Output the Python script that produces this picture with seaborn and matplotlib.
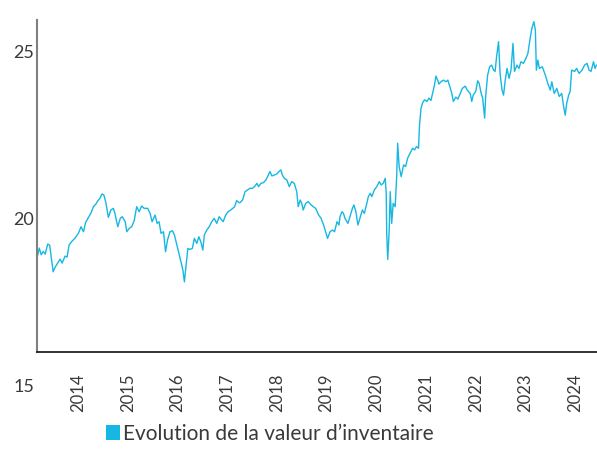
# -------------------------------------
# Import Libraries
# -------------------------------------
import matplotlib
matplotlib.use("Agg")
import matplotlib.pyplot as plt
import seaborn as sns
from matplotlib.patches import Patch


# -------------------------------------
# Data
# -------------------------------------
dates = [
    2013.19, 2013.22, 2013.26, 2013.30, 2013.34, 2013.39, 2013.43, 2013.47, 2013.50, 2013.54,
    2013.59, 2013.64, 2013.68, 2013.74, 2013.78, 2013.82, 2013.87, 2013.94, 2014.01, 2014.06,
    2014.11, 2014.15, 2014.21, 2014.26, 2014.31, 2014.36, 2014.40, 2014.44, 2014.48, 2014.52,
    2014.56, 2014.61, 2014.66, 2014.71, 2014.74, 2014.80, 2014.85, 2014.89, 2014.95, 2014.98,
    2015.03, 2015.08, 2015.13, 2015.18, 2015.23, 2015.28, 2015.33, 2015.40, 2015.45, 2015.49,
    2015.55, 2015.59, 2015.63, 2015.67, 2015.72, 2015.76, 2015.80, 2015.85, 2015.90, 2015.94,
    2015.99, 2016.03, 2016.07, 2016.11, 2016.14, 2016.17, 2016.21, 2016.25, 2016.30, 2016.34,
    2016.39, 2016.43, 2016.47, 2016.51, 2016.54, 2016.59, 2016.64, 2016.69, 2016.74, 2016.79,
    2016.84, 2016.88, 2016.92, 2016.97, 2017.02, 2017.09, 2017.15, 2017.19, 2017.24, 2017.26,
    2017.31, 2017.36, 2017.41, 2017.46, 2017.51, 2017.55, 2017.60, 2017.63, 2017.68, 2017.73,
    2017.78, 2017.83, 2017.86, 2017.90, 2017.95, 2018.00, 2018.04, 2018.08, 2018.11, 2018.15,
    2018.20, 2018.25, 2018.30, 2018.35, 2018.40, 2018.43, 2018.47, 2018.50, 2018.53, 2018.58,
    2018.63, 2018.69, 2018.73, 2018.78, 2018.84, 2018.89, 2018.94, 2018.98, 2019.02, 2019.07,
    2019.12, 2019.16, 2019.21, 2019.25, 2019.27, 2019.31, 2019.34, 2019.37, 2019.43, 2019.47,
    2019.52, 2019.55, 2019.59, 2019.63, 2019.67, 2019.72, 2019.76, 2019.81, 2019.84, 2019.88,
    2019.91, 2019.96, 2020.01, 2020.06, 2020.10, 2020.14, 2020.18, 2020.20, 2020.21, 2020.23,
    2020.26, 2020.28, 2020.31, 2020.34, 2020.38, 2020.41, 2020.43, 2020.46, 2020.50, 2020.55,
    2020.59, 2020.63, 2020.68, 2020.73, 2020.77, 2020.81, 2020.85, 2020.87, 2020.90, 2020.93,
    2020.97, 2021.02, 2021.06, 2021.10, 2021.14, 2021.17, 2021.20, 2021.24, 2021.26, 2021.30,
    2021.35, 2021.40, 2021.44, 2021.49, 2021.52, 2021.55, 2021.60, 2021.64, 2021.69, 2021.73,
    2021.79, 2021.83, 2021.89, 2021.92, 2021.95, 2022.00, 2022.04, 2022.07, 2022.11, 2022.14,
    2022.18, 2022.20, 2022.24, 2022.28, 2022.32, 2022.36, 2022.39, 2022.42, 2022.46, 2022.49,
    2022.53, 2022.56, 2022.59, 2022.63, 2022.67, 2022.71, 2022.75, 2022.78, 2022.83, 2022.87,
    2022.91, 2022.96, 2023.01, 2023.05, 2023.09, 2023.13, 2023.17, 2023.20, 2023.22, 2023.25,
    2023.28, 2023.34, 2023.40, 2023.45, 2023.50, 2023.53, 2023.58, 2023.63, 2023.68, 2023.73,
    2023.77, 2023.80, 2023.83, 2023.87, 2023.90, 2023.93, 2023.99, 2024.03, 2024.08, 2024.14,
    2024.19, 2024.24, 2024.28, 2024.32, 2024.37, 2024.40, 2024.43,
]

nav = [
    18.89, 19.10, 18.90, 19.00, 18.92, 19.22, 19.19, 18.74, 18.39, 18.53,
    18.65, 18.77, 18.65, 18.86, 18.83, 19.19, 19.29, 19.40, 19.55, 19.74,
    19.59, 19.86, 20.02, 20.15, 20.34, 20.42, 20.52, 20.59, 20.72, 20.69,
    20.46, 20.02, 20.24, 20.29, 20.15, 19.74, 19.99, 20.04, 19.89, 19.59,
    19.69, 19.74, 19.92, 20.34, 20.19, 20.36, 20.29, 20.29, 20.14, 19.89,
    20.09, 19.84, 19.89, 19.54, 19.59, 18.99, 19.34, 19.59, 19.62, 19.49,
    19.19, 18.94, 18.69, 18.44, 18.09, 18.54, 19.09, 19.06, 19.09, 19.39,
    19.24, 19.44, 19.29, 19.04, 19.49, 19.64, 19.74, 19.89, 19.99, 19.84,
    20.04, 19.96, 19.89, 20.09, 20.19, 20.26, 20.34, 20.52, 20.46, 20.46,
    20.54, 20.79, 20.84, 20.89, 20.89, 20.94, 21.04, 20.94, 21.04, 21.06,
    21.14, 21.29, 21.39, 21.26, 21.29, 21.32, 21.39, 21.44, 21.29, 21.19,
    21.14, 20.94, 21.09, 21.04, 20.79, 20.34, 20.54, 20.44, 20.24, 20.44,
    20.49, 20.39, 20.34, 20.29, 20.09, 19.99, 19.79, 19.59, 19.39, 19.59,
    19.64, 19.59, 19.89, 19.79, 20.04, 20.19, 20.14, 19.99, 19.84, 20.04,
    20.29, 20.39, 20.19, 19.79, 19.99, 20.24, 20.14, 20.44, 20.64, 20.74,
    20.64, 20.84, 20.94, 21.09, 20.99, 21.04, 21.19, 20.74, 19.54, 18.76,
    19.64, 20.79, 19.84, 20.44, 20.34, 21.24, 22.24, 21.54, 21.24, 21.59,
    21.54, 21.79, 21.94, 22.09, 22.04, 22.14, 22.09, 22.79, 23.29, 23.44,
    23.54, 23.49, 23.59, 23.52, 23.79, 23.98, 24.25, 24.11, 24.01, 24.08,
    24.13, 24.08, 24.13, 23.88, 23.73, 23.49, 23.62, 23.56, 23.73, 23.88,
    23.95, 23.83, 23.73, 23.49, 23.68, 23.79, 24.11, 24.03, 23.73, 23.59,
    22.99, 23.64, 24.28, 24.53, 24.58, 24.43, 24.39, 24.83, 25.28, 24.33,
    23.83, 23.68, 24.08, 24.48, 24.18, 24.43, 25.23, 24.39, 24.58, 24.48,
    24.68, 24.63, 24.78, 24.93, 25.33, 25.68, 25.88, 25.63, 24.43, 24.73,
    24.48, 24.53, 24.28, 24.03, 23.83, 24.08, 23.73, 23.88, 23.64, 23.73,
    23.33, 23.08, 23.43, 23.68, 23.79, 24.43, 24.39, 24.48, 24.33, 24.43,
    24.58, 24.63, 24.43, 24.39, 24.68, 24.48, 24.58,
]

year_ticks = [2014, 2015, 2016, 2017, 2018, 2019, 2020, 2021, 2022, 2023, 2024]
value_ticks = [15, 20, 25]
legend_label = "Evolution de la valeur d\u2019inventaire"


# -------------------------------------
# Style
# -------------------------------------
sns.set_style("white")
plt.rcParams["font.family"] = ["Lato", "DejaVu Sans"]

line_color = "#16B7E3"
text_color = "#3a3a3a"


# -------------------------------------
# Figure
# -------------------------------------
fig = plt.figure(figsize=(5.97, 4.5), dpi=100)
ax = fig.add_axes([0.062, 0.1444, 0.938, 0.8112])

sns.lineplot(x=dates, y=nav, ax=ax, color=line_color, linewidth=1.0,
             estimator=None, sort=False)

# spines first: moving the bottom spine resets the tick labels
for side in ["top", "right"]:
    ax.spines[side].set_visible(False)

ax.spines["bottom"].set_position(("data", 16))
ax.spines["bottom"].set_color("#111111")
ax.spines["bottom"].set_linewidth(1.2)

ax.spines["left"].set_bounds(16, 25.93)
ax.spines["left"].set_color("#7f7f7f")
ax.spines["left"].set_linewidth(1.5)

ax.set_xlim(2013.175, 2024.44)
ax.set_ylim(15, 25.93)

ax.set_xticks(year_ticks)
ax.set_xticklabels([str(y) for y in year_ticks])
ax.set_yticks(value_ticks)

ax.tick_params(axis="x", length=0, pad=16, labelsize=12,
               labelcolor=text_color, labelrotation=90)
ax.tick_params(axis="y", length=0, pad=2, labelsize=13, labelcolor=text_color)

ax.grid(False)


# -------------------------------------
# Legend
# -------------------------------------
handle = Patch(facecolor=line_color, edgecolor="none", label=legend_label)
fig.legend(
    handles=[handle],
    loc="center",
    bbox_to_anchor=(0.4515, 0.036),
    frameon=False,
    fontsize=15,
    handlelength=0.68,
    handleheight=0.68,
    handletextpad=0.12,
    labelcolor=text_color,
)

fig.savefig("out.png", dpi=100)
